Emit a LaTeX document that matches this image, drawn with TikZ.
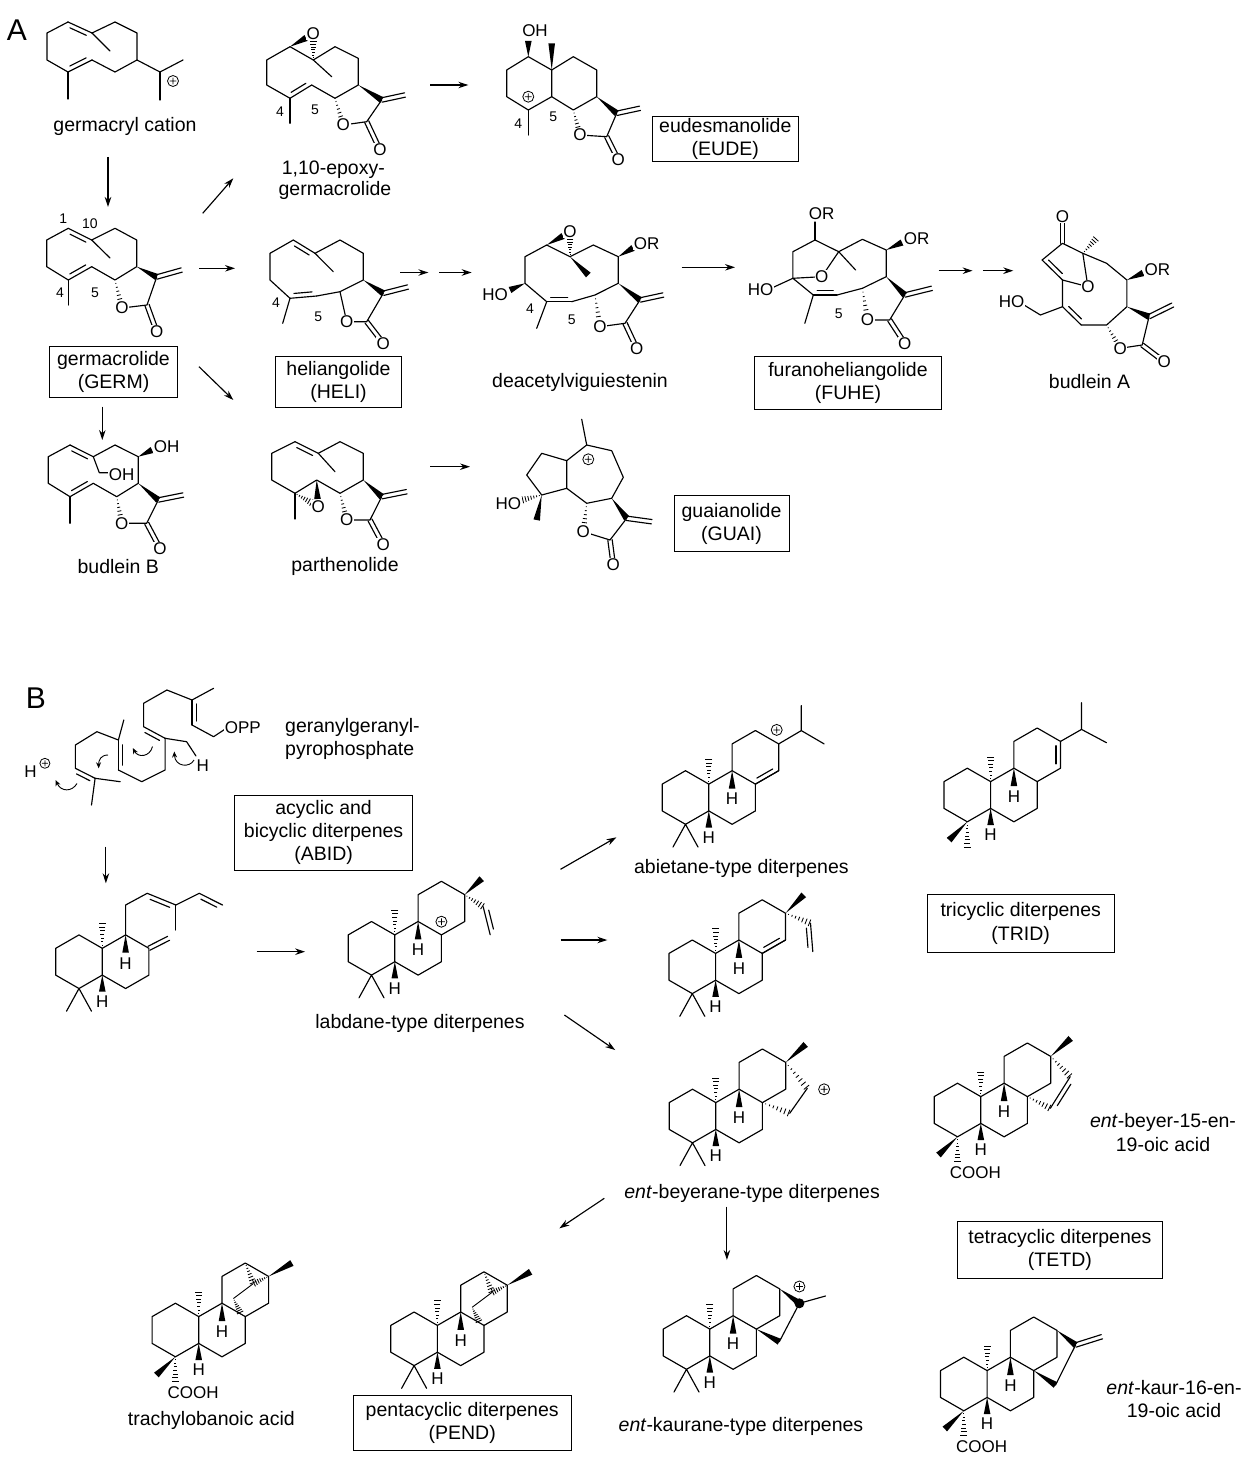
\documentclass[tikz,border=0pt]{standalone}
\usepackage{fontspec}
\setmainfont{Liberation Sans}
\usetikzlibrary{calc,arrows.meta}
\newcounter{nn}
\tikzset{
 bond/.style={line width=1.15pt,line cap=round,line join=round},
 rxn/.style={line width=1.15pt,-{Stealth[length=10pt,width=6.5pt]}},
 curly/.style={line width=0.9pt,-{Stealth[length=6pt,width=5pt]}},
 atom/.style={font=\fontsize{17}{17}\selectfont,fill=white,inner sep=0.6pt},
 num/.style={font=\fontsize{14}{14}\selectfont,inner sep=0pt},
 txt/.style={font=\fontsize{19.5}{23.3}\selectfont,align=center,inner sep=0pt},
 boxt/.style={txt,draw,line width=0.9pt},
 big/.style={font=\fontsize{30}{30}\selectfont,inner sep=0pt}
}
\newcommand\atm[3][atom]{\stepcounter{nn}\node[#1] (n\arabic{nn}) at (#2) {#3};}
\newcommand\hsh[2]{\foreach \hs in {0.12,0.26,...,1.0}{\draw[line width=0.85pt] ($(#1)!\hs!(#2)!{\hs*3.6pt}!90:(#1)$) -- ($(#1)!\hs!(#2)!{\hs*3.6pt}!-90:(#1)$);}}
\newcommand\bld[2]{\fill ($(#2)!3.3pt!90:(#1)$) -- (#1) -- ($(#2)!3.3pt!-90:(#1)$) -- cycle;}
\newcommand\dbs[2]{\draw[bond] ($(#1)!2.2pt!90:(#2)$) -- ($(#2)!2.2pt!-90:(#1)$); \draw[bond] ($(#1)!2.2pt!-90:(#2)$) -- ($(#2)!2.2pt!90:(#1)$);}
\newcommand\dbl[2]{\draw[bond] (#1)--(#2); \draw[bond] ($(#1)!0.16!(#2)!4.5pt!90:(#2)$) -- ($(#2)!0.16!(#1)!4.5pt!-90:(#1)$);}
\newcommand\dbr[2]{\draw[bond] (#1)--(#2); \draw[bond] ($(#1)!0.16!(#2)!4.5pt!-90:(#2)$) -- ($(#2)!0.16!(#1)!4.5pt!90:(#1)$);}
\newcommand\cpl[1]{\draw[line width=0.8pt] (#1) circle[radius=5.5] ++(-3.4,0) -- ++(6.8,0) ++(-3.4,-3.4) -- ++(0,6.8);}
% lactone: #1 C7, #2 O, #3 C12, #4 carbonyl O, #5 C11, #6 CH2
\newcommand\lac[6]{\draw[bond] (#2)--(#3)--(#5); \dbs{#3}{#4} \dbs{#5}{#6} \bld{#1}{#5} \atm{#2}{O} \atm{#4}{O}}
% diterpene skeleton (local coordinates)
\newcommand\ringsAB{%
\coordinate (a1) at (-23.3,-13.4); \coordinate (a2) at (0,-26.8); \coordinate (c10) at (23.3,-13.4);
\coordinate (c5) at (23.3,13.4); \coordinate (c4) at (0,26.8); \coordinate (a6) at (-23.3,13.4);
\coordinate (c9) at (46.6,-26.8); \coordinate (c8) at (69.9,-13.4); \coordinate (c7) at (69.9,13.4); \coordinate (c6) at (46.6,26.8);
\draw[bond] (a1)--(a2)--(c10)--(c5)--(c4)--(a6)--cycle;
\draw[bond] (c10)--(c9)--(c8)--(c7)--(c6)--(c5);}
\newcommand\ringC{%
\coordinate (c11) at (46.6,-53.6); \coordinate (c12) at (69.9,-67); \coordinate (c13) at (93.2,-53.6); \coordinate (c14) at (93.2,-26.8);
\draw[bond] (c9)--(c11)--(c12)--(c13)--(c14)--(c8);}
\newcommand\stereo{\hsh{c10}{23.3,-39}\bld{c9}{46.6,-9}\atm{46.6,1.5}{H}\bld{c5}{23.3,30}\atm{23.3,40}{H}}
\newcommand\gem{\draw[bond] (-12.5,49.5)--(c4)--(12.5,49.5);}
\newcommand\acid{\bld{c4}{-19,45}\hsh{c4}{0,52}\atm[atom,anchor=west]{-8.5,63}{COOH}}
\newcommand\bridge{\coordinate (bx) at (78,-46.5); \coordinate (by) at (58,-31.5);
\hsh{c12}{bx}\hsh{c13}{bx}\draw[line width=0.9pt] (bx)--(by); \hsh{by}{65,-17}}
\begin{document}
\begin{tikzpicture}[x=1pt,y=-1pt]
\useasboundingbox (0,0) rectangle (1249,1466);
\fill[white] (0,0) rectangle (1249,1466);
% ================= A =================
\atm[big]{17,30}{A}
% germacryl cation
\foreach \n/\x/\y in {g1/68/22,g2/47/33,g3/47/60,g4/68/72,g5/92/60,g6/115/72,g7/137/60,g8/137/33,g9/115/22,g10/92/33}{\coordinate (\n) at (\x,\y);}
\draw[bond] (g10)--(g9)--(g8)--(g7)--(g6)--(g5);
\draw[bond] (g1)--(g2)--(g3)--(g4);
\dbr{g1}{g10} \dbl{g4}{g5}
\draw[bond] (g10)--(110,51); \draw[bond] (g4)--(68,99);
\draw[bond] (g7)--(160,72)--(183,60); \draw[bond] (160,72)--(160,100);
\cpl{173,81}
\atm[txt]{125,126}{germacryl cation}
% germacrolide
\foreach \n/\x/\y in {e1/68.3/228.3,e2/46.7/240,e3/46.7/266.7,e4/68.3/280,e5/91.7/266.7,e6/115/280,e7/136.7/266.7,e8/136.7/240,e9/115/228.3,e10/91.7/240}{\coordinate (\n) at (\x,\y);}
\draw[bond] (e1)--(e2)--(e3)--(e4); \draw[bond] (e5)--(e6)--(e7)--(e8)--(e9)--(e10);
\dbr{e1}{e10} \dbl{e4}{e5}
\draw[bond] (e10)--(110,258); \draw[bond] (e4)--(68.3,305);
\hsh{e6}{122,308}
\lac{e7}{122,308}{147,305}{156.7,331.7}{156.7,277}{181.7,270}
\atm[num]{63.3,218.3}{1} \atm[num]{90,224}{10} \atm[num]{60,293}{4} \atm[num]{95,293}{5}
\node[boxt,minimum width=128.4pt,minimum height=50.6pt] (germ) at (113.5,372) {germacrolide\\(GERM)};
% 1,10-epoxygermacrolide
\foreach \n/\x/\y in {p1/290/46.7,pO/313.3/33.3,p10/313.3/60,p9/335/46.7,p8/358.3/58.3,p7/358.3/85,p6/335/98.3,p5/311.7/85,p4/290/98.3,p3/266.7/85,p2/266.7/60}{\coordinate (\n) at (\x,\y);}
\draw[bond] (p10)--(p9)--(p8)--(p7)--(p6)--(p5); \draw[bond] (p4)--(p3)--(p2)--(p1)--(p10);
\dbl{p4}{p5}
\draw[bond] (p10)--(331.7,76.7); \draw[bond] (p4)--(290,123.3);
\bld{p1}{306,38} \hsh{p10}{313.3,41} \atm{pO}{O}
\hsh{p6}{343.3,125}
\lac{p7}{343.3,125}{366.7,121.7}{380,150}{381.7,100}{405,95}
\atm[num]{280,112}{4} \atm[num]{315,110}{5}
\atm[txt]{333.3,170}{1,10-epoxy-} \atm[txt]{335,190}{germacrolide}
% eudesmanolide
\foreach \n/\x/\y in {u1/528.3/56.7,u2/506.7/70,u3/506.7/96.7,u4/528.3/110,u5/551.7/96.7,u10/551.7/70,u9/573.3/56.7,u8/596.7/70,u7/596.7/96.7,u6/573.3/110}{\coordinate (\n) at (\x,\y);}
\draw[bond] (u1)--(u2)--(u3)--(u4)--(u5)--(u10)--(u1);
\draw[bond] (u10)--(u9)--(u8)--(u7)--(u6)--(u5);
\bld{u1}{528.3,41} \atm{535,31}{OH}
\bld{u10}{551.7,43.3}
\cpl{528.3,96.7}
\draw[bond] (u4)--(528.3,135);
\hsh{u6}{580,135}
\lac{u7}{580,135}{606.7,136.7}{618.3,160}{616.7,113.3}{640,108.3}
\atm[num]{518.3,123.3}{4} \atm[num]{553.3,116.7}{5}
\node[boxt,minimum width=146pt,minimum height=45pt] (eude) at (725.3,139.2) {eudesmanolide\\(EUDE)};
% heliangolide
\foreach \n/\x/\y in {h1/293.3/240,h2/270/253.3,h3/270/280,h4/290/298.3,h5/316.7/296,h6/340/291.7,h7/363.3/280,h8/363.3/253.3,h9/340/240,h10/315/253.3}{\coordinate (\n) at (\x,\y);}
\draw[bond] (h1)--(h2)--(h3)--(h4); \draw[bond] (h5)--(h6)--(h7)--(h8)--(h9)--(h10);
\dbr{h1}{h10} \dbl{h4}{h5}
\draw[bond] (h10)--(333.3,271.7); \draw[bond] (h4)--(282.7,323.3);
\draw[bond] (h6)--(346.7,321.7);
\lac{h7}{346.7,321.7}{366.7,321.7}{383.3,343.3}{383.3,293.3}{408,287}
\atm[num]{276,303}{4} \atm[num]{318.3,316.7}{5}
\node[boxt,minimum width=126.4pt,minimum height=50.6pt] (heli) at (338.5,382) {heliangolide\\(HELI)};
% deacetylviguiestenin
\foreach \n/\x/\y in {d1/546.7/245,dO/570/231.7,d10/570/256.7,d9/593.3/245,d8/618.3/256.7,d7/618.3/283.3,d6/595/295,d5/571.7/301.7,d4/546.7/301.7,d3/525/283.3,d2/525/256.7}{\coordinate (\n) at (\x,\y);}
\draw[bond] (d10)--(d9)--(d8)--(d7)--(d6)--(d5); \draw[bond] (d4)--(d3)--(d2)--(d1)--(d10);
\dbl{d4}{d5}
\bld{d1}{563,236} \hsh{d10}{570,239} \atm{dO}{O}
\bld{d10}{588.3,275}
\bld{d8}{633,248} \atm{646.7,243.3}{OR}
\bld{d3}{510,290} \atm{495,295}{HO}
\draw[bond] (d4)--(536.7,328.3);
\hsh{d6}{600,326.7}
\lac{d7}{600,326.7}{625,323.3}{636.7,348.3}{640,300}{663.3,295}
\atm[num]{530,308.3}{4} \atm[num]{571.7,320}{5}
\atm[txt]{580,382.7}{deacetylviguiestenin}
% furanoheliangolide
\foreach \n/\x/\y in {f1/815/240,f2/792.9/251.7,f3/792.9/278.3,fO/821.7/276.7,f10/838.7/251.7,f4/813.3/295,f5/837/295,f6/862.4/288.3,f7/886.2/276.7,f8/886.2/250,f9/862.4/239.3}{\coordinate (\n) at (\x,\y);}
\draw[bond] (f1)--(f2)--(f3)--(f4); \draw[bond] (f5)--(f6)--(f7)--(f8)--(f9)--(f10)--(f1);
\dbl{f4}{f5}
\draw[bond] (f1)--(815,222); \atm{821.7,213.3}{OR}
\draw[bond] (f3)--(774,287); \atm{760.7,290}{HO}
\draw[bond] (f3)--(fO)--(f10); \atm{fO}{O}
\draw[bond] (f10)--(855.6,270); \draw[bond] (f4)--(804.8,323.3);
\bld{f8}{902,242.5} \atm{916.7,238.3}{OR}
\hsh{f6}{867.5,320}
\lac{f7}{867.5,320}{889.6,320}{904.8,343.3}{904.8,295}{931.9,288.3}
\atm[num]{838.7,313.3}{5}
\node[boxt,minimum width=186.8pt,minimum height=52.6pt] (fuhe) at (848,383) {furanoheliangolide\\(FUHE)};
% budlein A
\foreach \n/\x/\y in {bO/1062.5/216.7,bk/1062.5/243.3,ba/1042.1/260,bb/1062.5/280,bq/1082.8/253.3,bOb/1087.9/286.7,bc/1106.6/263.3,b8/1126.9/280,b7/1126.9/306.7,b6/1106.6/325,b5/1081.2/325,b4/1062.5/306.7,bh/1040.4/315}{\coordinate (\n) at (\x,\y);}
\dbs{bk}{bO}
\draw[bond] (ba)--(bk)--(bq)--(bc)--(b8)--(b7)--(b6)--(b5);
\dbl{ba}{bb} \dbl{b4}{b5}
\draw[bond] (bb)--(b4)--(bh)--(1024,305);
\draw[bond] (bb)--(bOb)--(bq);
\hsh{bq}{1096.4,238.3}
\bld{b8}{1143,273} \atm{1157.4,270}{OR}
\atm{1011.6,301.7}{HO} \atm{bO}{O} \atm{bOb}{O}
\hsh{b6}{1120.1,348.3}
\lac{b7}{1120.1,348.3}{1142.2,345}{1164.2,361.7}{1149,316.7}{1172.7,305}
\atm[txt]{1089.6,381.7}{budlein A}
% budlein B
\foreach \n/\x/\y in {r1/70/445,r2/48.3/456.7,r3/48.3/483.3,r4/70/496.7,r5/93.3/483.3,r6/116.7/496.7,r7/138.3/483.3,r8/138.3/456.7,r9/115/445,r10/93.3/456.7}{\coordinate (\n) at (\x,\y);}
\draw[bond] (r1)--(r2)--(r3)--(r4); \draw[bond] (r5)--(r6)--(r7)--(r8)--(r9)--(r10);
\dbr{r1}{r10} \dbl{r4}{r5}
\draw[bond] (r10)--(99.3,472.7)--(110,472.7); \atm{121.7,474.5}{OH}
\bld{r8}{152,450} \atm{166.7,446.7}{OH}
\draw[bond] (r4)--(70,523.3);
\hsh{r6}{121.7,523.3}
\lac{r7}{121.7,523.3}{146.7,523.3}{160,548.3}{158.3,500}{183.3,495}
\atm[txt]{118.3,566.7}{budlein B}
% parthenolide
\foreach \n/\x/\y in {q1/295/441.7,q2/271.7/453.3,q3/271.7/480,q4/295/493.3,q5/316.7/480,q6/340/493.3,q7/363.3/480,q8/363.3/453.3,q9/340/441.7,q10/318.3/453.3}{\coordinate (\n) at (\x,\y);}
\draw[bond] (q1)--(q2)--(q3)--(q4)--(q5)--(q6)--(q7)--(q8)--(q9)--(q10);
\dbr{q1}{q10}
\draw[bond] (q10)--(335,471.7); \draw[bond] (q4)--(295,519);
\bld{q5}{317.5,499} \hsh{q4}{312,503} \atm{318.3,506.7}{O}
\hsh{q6}{346.7,520}
\lac{q7}{346.7,520}{370,520}{383.3,545}{381.7,496.7}{406.7,491.7}
\atm[txt]{345,566.7}{parthenolide}
% guaianolide
\foreach \n/\x/\y in {k1/566.7/460.7,k2/541.7/453.3,k3/526.7/475,k4/541.7/495,k5/566.7/488.3,m4/586.7/445,m3/611.7/450.7,m2/623.3/477.3,k7/611.7/498.3,k6/586.7/503.3}{\coordinate (\n) at (\x,\y);}
\draw[bond] (k1)--(k2)--(k3)--(k4)--(k5)--(k1)--(m4)--(m3)--(m2)--(k7)--(k6)--(k5);
\draw[bond] (m4)--(581.7,419.3);
\cpl{588.3,459.3}
\hsh{k4}{522,500} \atm{508.3,503.3}{HO}
\bld{k4}{536.7,520}
\hsh{k6}{583.3,531.7}
\lac{k7}{583.3,531.7}{610,540}{613.3,565}{626.7,518.3}{651.7,521.7}
\node[boxt,minimum width=115pt,minimum height=56pt] (guai) at (731.5,523.7) {guaianolide\\(GUAI)};
% ================= B =================
\atm[big]{35.9,698.3}{B}
% GGPP
\foreach \n/\x/\y in {m0/213.6/688.3,y3/192/700,y2/192/725,ych/213.6/736.7,y4/166.9/690,y5/143.6/703.3,y6/143.6/726.7,y7/165.1/738.3,ycm/186.6/741.7,y8/165.1/770,y9/141.8/781.7,y10/118.4/770,y11/118.4/740,y11m/123.8/720,y12/96.9/731.7,y13/75.4/745,y14/75.4/768.3,y15/95.1/778.3,ym1/120.2/781.7,ym2/91.5/805}{\coordinate (\n) at (\x,\y);}
\draw[bond] (m0)--(y3); \dbl{y3}{y2}
\draw[bond] (y2)--(ych)--(226,728.5);
\draw[bond] (y3)--(y4)--(y5)--(y6); \dbr{y6}{y7}
\draw[bond] (y7)--(ycm)--(196,756);
\draw[bond] (y7)--(y8)--(y9)--(y10); \dbr{y10}{y11}
\draw[bond] (y11)--(y11m); \draw[bond] (y11)--(y12)--(y13)--(y14); \dbr{y14}{y15}
\draw[bond] (y15)--(ym1); \draw[bond] (y15)--(ym2);
\atm[atom,anchor=west]{224,727.3}{OPP}
\atm{202.8,766}{H}
\atm{30.5,771.7}{H}
\draw[line width=0.8pt] (44.9,763.3) circle[radius=5] ++(-3,0) -- ++(6,0) ++(-3,-3) -- ++(0,6);
\coordinate (cu1s) at (152.5,746.5); \coordinate (cu1e) at (132.8,748);
\draw[curly] (cu1s) .. controls (150,757) and (138,758) .. (cu1e);
\coordinate (cu2s) at (108,755); \coordinate (cu2e) at (98.7,768.3);
\draw[curly] (cu2s) .. controls (101,755) and (98.5,760) .. (cu2e);
\coordinate (cu3s) at (77,783.5); \coordinate (cu3e) at (55.6,780);
\draw[curly] (cu3s) .. controls (72,792) and (61,792) .. (cu3e);
\coordinate (cu4s) at (194,760); \coordinate (cu4e) at (174.3,751.5);
\draw[curly] (cu4s) .. controls (190,768) and (175,767) .. (cu4e);
\node[txt,align=left,anchor=west] (ggpp) at (285,739) {geranylgeranyl-\\pyrophosphate};
\node[boxt,minimum width=178.4pt,minimum height=75pt] (abid) at (323.6,832.5) {acyclic and\\bicyclic diterpenes\\(ABID)};
% bicyclic
\begin{scope}[shift={(79,961.7)}]
\ringsAB\stereo\gem
\dbs{c8}{89.6,-23.4}
\draw[bond] (c9)--(46.6,-56.7)--(68.2,-68.4);
\dbr{68.2,-68.4}{96.9,-56.7}
\draw[bond] (96.9,-56.7)--(96.9,-31.7); \draw[bond] (96.9,-56.7)--(120.2,-68.4);
\dbr{120.2,-68.4}{143.5,-56.7}
\end{scope}
% labdane cation
\begin{scope}[shift={(371.5,948.3)}]
\ringsAB\ringC\stereo\gem
\cpl{69.9,-26.6}
\bld{c13}{110.2,-69.6}
\hsh{c13}{111.7,-41.6}
\dbl{111.7,-41.6}{118.7,-13.6}
\end{scope}
\atm[txt]{420,1023}{labdane-type diterpenes}
% abietane cation
\begin{scope}[shift={(685.5,797.5)}]
\ringsAB\ringC\stereo\gem
\dbl{c8}{c14}
\cpl{91.2,-67.6}
\draw[bond] (c13)--(115.8,-66.9)--(115.8,-91.9); \draw[bond] (115.8,-66.9)--(138.6,-53.6);
\end{scope}
\atm[txt]{741.4,868.3}{abietane-type diterpenes}
% abietadiene
\begin{scope}[shift={(967.3,795)}]
\ringsAB\ringC\stereo
\dbr{c13}{c14}
\bld{c4}{-18.2,45.1} \hsh{c4}{0,53.4}
\draw[bond] (c13)--(114.2,-65.6)--(114.2,-92.3); \draw[bond] (114.2,-65.6)--(139.2,-52.3);
\end{scope}
\node[boxt,minimum width=186.8pt,minimum height=58.7pt] (trid) at (1020.7,923.4) {tricyclic diterpenes\\(TRID)};
% isopimaradienyl
\begin{scope}[shift={(692.3,966.8)}]
\ringsAB\ringC\stereo\gem
\dbl{c8}{c14}
\bld{c13}{111.4,-71.9}
\hsh{c13}{118.2,-43.6}
\dbr{118.2,-43.6}{120.5,-15.2}
\end{scope}
% ent-beyerane cation
\begin{scope}[shift={(692.5,1116)}]
\ringsAB\ringC\stereo\gem
\bld{c13}{113.2,-71.6}
\coordinate (c15) at (97.2,-2.7); \coordinate (c16) at (114.8,-27.7);
\hsh{c8}{c15} \draw[bond] (c15)--(c16); \hsh{c13}{c16}
\cpl{131.6,-26.7}
\end{scope}
\atm[txt]{752.1,1193.3}{\textit{ent}-beyerane-type diterpenes}
% ent-beyer-15-en-19-oic acid
\begin{scope}[shift={(957.5,1110)}]
\ringsAB\ringC\stereo\acid
\bld{c13}{113.2,-71.6}
\coordinate (c15) at (92.8,-1.7); \coordinate (c16) at (112.7,-33.3);
\hsh{c8}{c15} \hsh{c13}{c16} \dbr{c15}{c16}
\end{scope}
\atm[txt]{1163,1132.5}{\textit{ent}-beyer-15-en-\\19-oic acid}
% trachylobanoic acid
\begin{scope}[shift={(175.4,1330)}]
\ringsAB\ringC\stereo\acid
\bld{c13}{116.5,-67}
\bridge
\end{scope}
\atm[txt]{211.3,1420}{trachylobanoic acid}
% pentacyclic
\begin{scope}[shift={(414.1,1338.8)}]
\ringsAB\ringC\stereo\gem
\bld{c13}{116.5,-67}
\bridge
\end{scope}
\node[boxt,minimum width=218.2pt,minimum height=54.3pt] (pend) at (462.2,1422.9) {pentacyclic diterpenes\\(PEND)};
% ent-kaurane cation
\begin{scope}[shift={(686.5,1342.5)}]
\ringsAB\ringC\stereo\gem
\coordinate (c15) at (92.8,-0.8); \coordinate (c16) at (112.9,-39.2);
\bld{c8}{c15} \draw[bond] (c15)--(c16); \bld{c13}{c16}
\fill (c16) circle[radius=5];
\draw[bond] (c16)--(139,-46.5);
\cpl{112.9,-56}
\end{scope}
\atm[txt]{741,1426.7}{\textit{ent}-kaurane-type diterpenes}
% ent-kaur-16-en-19-oic acid
\begin{scope}[shift={(963.8,1384)}]
\ringsAB\ringC\stereo\acid
\coordinate (c15) at (91.7,1); \coordinate (c16) at (111.8,-39);
\bld{c8}{c15} \draw[bond] (c15)--(c16); \bld{c13}{c16}
\dbs{c16}{138.1,-47.3}
\end{scope}
\atm[txt]{1174,1399}{\textit{ent}-kaur-16-en-\\19-oic acid}
\node[boxt,minimum width=204.8pt,minimum height=56.6pt] (tetd) at (1059.9,1250) {tetracyclic diterpenes\\(TETD)};
% ================= reaction arrows =================
\foreach \i/\xa/\ya/\xb/\yb in {1/108/157/108/207, 2/202.7/213.3/233.3/178.3, 3/199.3/268.3/235/268.3, 4/199/366.7/233.3/400, 5/102.3/406.7/102.3/440, 6/430/85/468.3/85, 7/400/272.5/428.3/272.5, 8/439.3/272.5/471.7/272.5, 9/681.7/267.3/735/267.3, 10/938.7/270.7/972.6/270.7, 11/982.8/270.7/1013.3/270.7, 12/430/466.7/470/466.7, 13/105.9/846.7/105.9/883.3, 14/256.6/951.7/305.1/951.7, 15/560.5/869.3/616.4/837.3, 16/560.5/940/607.3/940, 17/564.4/1015/615.2/1050, 18/604.3/1198.3/559.4/1228.3, 19/726.9/1206.7/726.9/1260}
{\coordinate (ars\i) at (\xa,\ya); \coordinate (are\i) at (\xb,\yb); \draw[rxn] (ars\i) -- (are\i);}
\end{tikzpicture}
\end{document}
